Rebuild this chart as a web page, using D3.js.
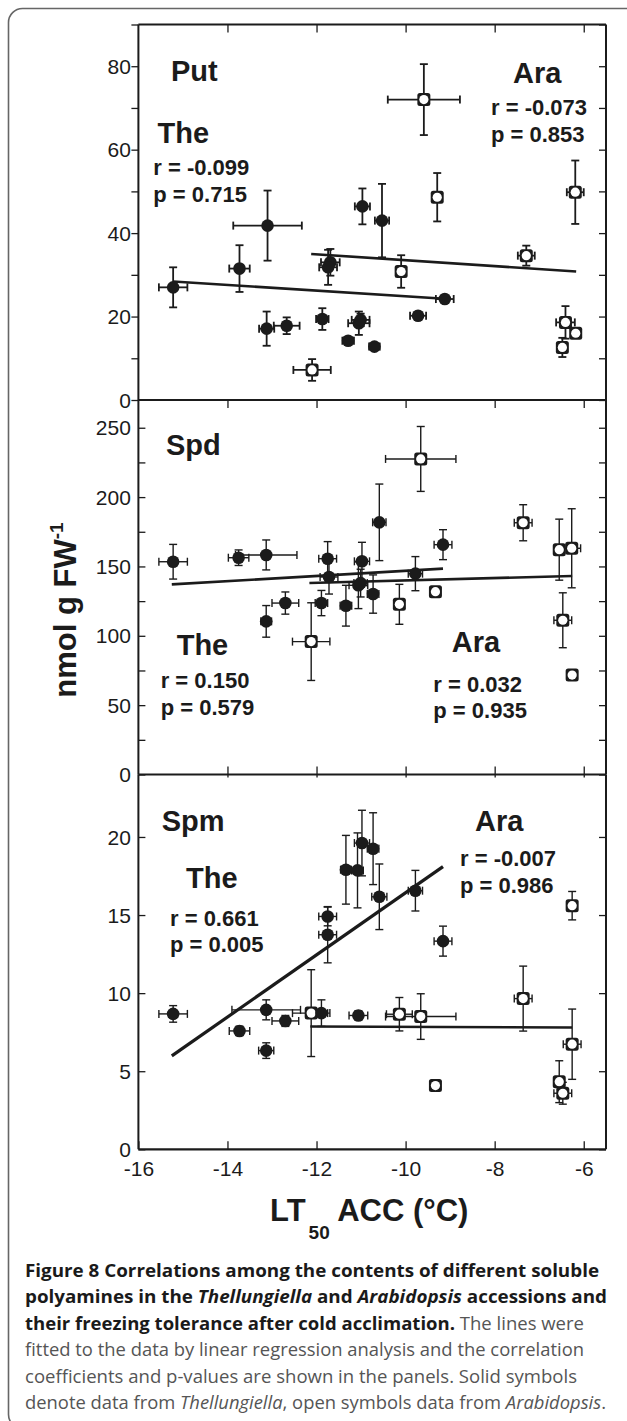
<!DOCTYPE html>
<html><head><meta charset="utf-8">
<script src="https://cdn.jsdelivr.net/npm/d3@7"></script>
<style>body{margin:0;background:#fff}</style>
</head><body>
<script>
// ---------- data ----------
const xTickValues = [-16, -14, -12, -10, -8, -6];
const xTickLabels = ["-16", "-14", "-12", "-10", "-8", "-6"];

const putYTicks = [0, 20, 40, 60, 80];
const putYMinor = [10, 30, 50, 70, 90];
const spdYTicks = [0, 50, 100, 150, 200, 250];
const spdYMinor = [25, 75, 125, 175, 225];
const spmYTicks = [0, 5, 10, 15, 20];
const spmYMinor = [];

// Thellungiella (solid) and Arabidopsis (open): x = LT50, y = content, xe / ye = error
const putThe = [
  {x:-15.22,y:27.0,xe:0.32,ye:4.8},{x:-13.73,y:31.5,xe:0.23,ye:5.6},{x:-13.10,y:41.8,xe:0.77,ye:8.4},
  {x:-13.12,y:17.1,xe:0.17,ye:4.1},{x:-12.67,y:17.8,xe:0.29,ye:2.0},{x:-11.87,y:19.4,xe:0.14,ye:2.6},
  {x:-11.69,y:33.0,xe:0.21,ye:3.2},{x:-11.74,y:31.8,xe:0.20,ye:4.2},{x:-10.97,y:46.4,xe:0.17,ye:4.3},
  {x:-11.29,y:14.2,xe:0.13,ye:0.6},{x:-11.05,y:18.4,xe:0.24,ye:2.8},{x:-11.01,y:19.2,xe:0.20,ye:1.5},
  {x:-10.53,y:43.0,xe:0.16,ye:8.8},{x:-10.70,y:12.8,xe:0.12,ye:0.7},{x:-9.72,y:20.2,xe:0.18,ye:0.6},
  {x:-9.12,y:24.2,xe:0.20,ye:0.6}
];
const putAra = [
  {x:-9.59,y:72.0,xe:0.81,ye:8.5},{x:-9.29,y:48.6,xe:0.10,ye:5.8},{x:-10.10,y:30.8,xe:0.08,ye:3.9},
  {x:-12.10,y:7.2,xe:0.42,ye:2.6},{x:-7.29,y:34.6,xe:0.19,ye:2.4},{x:-6.19,y:49.8,xe:0.19,ye:7.6},
  {x:-6.41,y:18.6,xe:0.21,ye:3.9},{x:-6.48,y:12.6,xe:0.08,ye:2.3},{x:-6.18,y:16.0,xe:0.10,ye:0.4}
];
const spdThe = [
  {x:-15.22,y:153.4,xe:0.32,ye:12.5},{x:-13.75,y:156.3,xe:0.23,ye:5.6},{x:-13.13,y:158.3,xe:0.69,ye:10.8},
  {x:-13.13,y:110.4,xe:0.12,ye:11.4},{x:-12.70,y:123.6,xe:0.30,ye:8.0},{x:-11.89,y:123.6,xe:0.14,ye:9.1},
  {x:-11.75,y:155.6,xe:0.20,ye:12.3},{x:-11.72,y:142.4,xe:0.20,ye:12.3},{x:-11.34,y:121.7,xe:0.13,ye:14.7},
  {x:-10.98,y:153.7,xe:0.17,ye:13.7},{x:-11.06,y:136.4,xe:0.21,ye:16.8},{x:-11.01,y:138.0,xe:0.15,ye:10.0},
  {x:-10.73,y:130.1,xe:0.13,ye:13.8},{x:-10.59,y:181.8,xe:0.15,ye:27.6},{x:-9.78,y:144.8,xe:0.16,ye:12.3},
  {x:-9.16,y:165.7,xe:0.20,ye:10.8}
];
const spdAra = [
  {x:-9.66,y:227.5,xe:0.79,ye:23.4},{x:-9.33,y:131.8,xe:0.10,ye:2.5},{x:-10.14,y:122.7,xe:0.08,ye:14.4},
  {x:-12.12,y:95.8,xe:0.42,ye:28.0},{x:-7.36,y:181.5,xe:0.20,ye:13.0},{x:-6.55,y:162.1,xe:0.08,ye:22.0},
  {x:-6.27,y:163.1,xe:0.20,ye:28.5},{x:-6.47,y:111.2,xe:0.20,ye:19.8},{x:-6.26,y:71.7,xe:0.08,ye:2.0}
];
const spmThe = [
  {x:-15.22,y:8.67,xe:0.32,ye:0.53},{x:-13.73,y:7.58,xe:0.23,ye:0.3},{x:-13.13,y:8.93,xe:0.77,ye:0.64},
  {x:-13.13,y:6.32,xe:0.17,ye:0.5},{x:-12.70,y:8.22,xe:0.30,ye:0.35},{x:-11.89,y:8.72,xe:0.14,ye:0.85},
  {x:-11.75,y:14.91,xe:0.20,ye:0.6},{x:-11.75,y:13.74,xe:0.20,ye:1.8},{x:-11.34,y:17.9,xe:0.12,ye:2.2},
  {x:-11.08,y:17.86,xe:0.13,ye:2.4},{x:-10.98,y:19.61,xe:0.17,ye:2.1},{x:-10.73,y:19.25,xe:0.13,ye:2.3},
  {x:-10.59,y:16.17,xe:0.17,ye:2.1},{x:-9.78,y:16.56,xe:0.16,ye:1.3},{x:-9.16,y:13.33,xe:0.20,ye:0.96},
  {x:-11.06,y:8.57,xe:0.21,ye:0.3}
];
const spmAra = [
  {x:-9.66,y:8.50,xe:0.79,ye:1.46},{x:-9.33,y:4.08,xe:0.10,ye:0.1},{x:-10.14,y:8.65,xe:0.29,ye:1.07},
  {x:-12.12,y:8.72,xe:0.42,ye:2.78},{x:-7.36,y:9.65,xe:0.20,ye:2.08},{x:-6.55,y:4.33,xe:0.10,ye:1.34},
  {x:-6.26,y:6.73,xe:0.20,ye:2.25},{x:-6.47,y:3.59,xe:0.20,ye:0.7},{x:-6.26,y:15.6,xe:0.10,ye:0.91}
];

// fitted regression lines (end points)
const putFitThe = [[-15.22, 28.4], [-9.04, 24.2]];
const putFitAra = [[-12.12, 35.0], [-6.17, 30.8]];
const spdFitThe = [[-15.25, 137.1], [-9.16, 148.4]];
const spdFitAra = [[-12.16, 138.1], [-6.26, 143.1]];
const spmFitThe = [[-15.25, 5.98], [-9.16, 18.1]];
const spmFitAra = [[-12.14, 7.86], [-6.26, 7.8]];

const panelNames = ["Put", "Spd", "Spm"];
const theStats = [["r = -0.099", "p = 0.715"], ["r = 0.150", "p = 0.579"], ["r = 0.661", "p = 0.005"]];
const araStats = [["r = -0.073", "p = 0.853"], ["r = 0.032", "p = 0.935"], ["r = -0.007", "p = 0.986"]];

const yLabel = "nmol g FW";
const yLabelSup = "-1";
const xLabelMain = "LT";
const xLabelSub = "50";
const xLabelRest = " ACC (°C)";

// ---------- drawing ----------
const W = 627, H = 1421;
const svg = d3.select("body").append("svg").attr("width", W).attr("height", H)
  .attr("font-family", "'Liberation Sans', Arial, Helvetica, sans-serif");

svg.append("rect").attr("x", 8.5).attr("y", 8.5).attr("width", 640).attr("height", 1420)
  .attr("rx", 14).attr("fill", "none").attr("stroke", "#666").attr("stroke-width", 1.6);

const X0 = 138.4, X1 = 606;
const x = d3.scaleLinear().domain([-16, -5.5]).range([X0, X1]);

const panels = [
  {top: 24.5, bottom: 400, max: 90, ticks: putYTicks, minor: putYMinor, the: putThe, ara: putAra,
   fitThe: putFitThe, fitAra: putFitAra, leftOut: true, theW: 2.6,
   name: {x: 171, y: 81}, araName: {x: 513, y: 82.7}, araStats: {x: 491, y: 115},
   theName: {x: 157.5, y: 143}, theStats: {x: 153.3, y: 175}, barW: 1.8},
  {top: 400, bottom: 774.5, max: 270, ticks: spdYTicks, minor: spdYMinor, the: spdThe, ara: spdAra,
   fitThe: spdFitThe, fitAra: spdFitAra, leftOut: false, theW: 2.6,
   name: {x: 166, y: 455}, araName: {x: 451.7, y: 651.7}, araStats: {x: 433.3, y: 691.7},
   theName: {x: 176.7, y: 655}, theStats: {x: 160.7, y: 688}, barW: 1.4},
  {top: 774.5, bottom: 1149.3, max: 24, ticks: spmYTicks, minor: spmYMinor, the: spmThe, ara: spmAra,
   fitThe: spmFitThe, fitAra: spmFitAra, leftOut: false, theW: 3.2,
   name: {x: 161.7, y: 830.7}, araName: {x: 475, y: 830.7}, araStats: {x: 460, y: 866},
   theName: {x: 186, y: 887.7}, theStats: {x: 170, y: 925.7}, barW: 1.4}
];

const ink = "#1b1b1b";

panels.forEach((p, i) => {
  const y = d3.scaleLinear().domain([0, p.max]).range([p.bottom, p.top]);
  const g = svg.append("g");

  // left axis major with labels
  const la = d3.axisLeft(y).tickValues(p.ticks).tickFormat(d3.format("d"))
    .tickSize(p.leftOut ? 7 : -7).tickPadding(p.leftOut ? 0.5 : 7.5);
  const lg = g.append("g").attr("transform", `translate(${X0},0)`).call(la);
  lg.select(".domain").remove();
  lg.selectAll("line").attr("stroke", ink).attr("stroke-width", 1.3);
  lg.selectAll("text").attr("font-size", 21).attr("fill", ink).attr("dy", "0.34em");
  if (p.minor.length) {
    const lm = g.append("g").attr("transform", `translate(${X0},0)`)
      .call(d3.axisLeft(y).tickValues(p.minor).tickFormat("").tickSize(p.leftOut ? 7 : -7));
    lm.select(".domain").remove();
    lm.selectAll("line").attr("stroke", ink).attr("stroke-width", 1.3);
  }
  // right axis ticks inward
  const rg = g.append("g").attr("transform", `translate(${X1},0)`)
    .call(d3.axisRight(y).tickValues(p.ticks.concat(p.minor)).tickFormat("").tickSize(-7));
  rg.select(".domain").remove();
  rg.selectAll("line").attr("stroke", ink).attr("stroke-width", 1.3);

  // frame sides
  g.append("line").attr("x1", X0).attr("x2", X0).attr("y1", p.top).attr("y2", p.bottom)
    .attr("stroke", ink).attr("stroke-width", 2);
  g.append("line").attr("x1", X1).attr("x2", X1).attr("y1", p.top).attr("y2", p.bottom)
    .attr("stroke", ink).attr("stroke-width", 2);
  g.append("line").attr("x1", X0).attr("x2", X1).attr("y1", p.bottom).attr("y2", p.bottom)
    .attr("stroke", ink).attr("stroke-width", 2.2);
  if (i === 0) {
    g.append("line").attr("x1", X0).attr("x2", X1).attr("y1", p.top).attr("y2", p.top)
      .attr("stroke", ink).attr("stroke-width", 2);
  }

  // x ticks
  const xt = (axisFn, ypos, size) => {
    const a = g.append("g").attr("transform", `translate(0,${ypos})`)
      .call(axisFn(x).tickValues(xTickValues.slice(1)).tickFormat("").tickSize(size));
    a.select(".domain").remove();
    a.selectAll("line").attr("stroke", ink).attr("stroke-width", 1.3);
  };
  if (i === 0) { xt(d3.axisTop, p.top, -8); xt(d3.axisBottom, p.bottom, 8); }
  if (i === 1) { xt(d3.axisTop, p.bottom, 8); xt(d3.axisBottom, p.bottom, 3); }
  if (i === 2) {
    const a = g.append("g").attr("transform", `translate(0,${p.bottom})`)
      .call(d3.axisBottom(x).tickValues(xTickValues).tickFormat((d, k) => xTickLabels[k])
        .tickSize(-8).tickPadding(13));
    a.select(".domain").remove();
    a.selectAll("line").attr("stroke", ink).attr("stroke-width", 1.3);
    a.selectAll("text").attr("font-size", 21).attr("fill", ink).attr("dy", "0.66em");
  }

  // regression lines
  const line = d3.line().x(d => x(d[0])).y(d => y(d[1]));
  g.append("path").datum(p.fitAra).attr("d", line).attr("stroke", ink).attr("stroke-width", 2.6).attr("fill", "none");
  g.append("path").datum(p.fitThe).attr("d", line).attr("stroke", ink).attr("stroke-width", p.theW).attr("fill", "none");

  // error bars
  const drawBars = (data) => {
    const eb = g.append("g").attr("stroke", ink).attr("stroke-width", p.barW);
    data.forEach(d => {
      const cx = x(d.x), cy = y(d.y);
      const y1 = y(d.y + d.ye), y2 = y(d.y - d.ye);
      const x1 = x(d.x - d.xe), x2 = x(d.x + d.xe);
      eb.append("line").attr("x1", cx).attr("x2", cx).attr("y1", y1).attr("y2", y2);
      eb.append("line").attr("x1", cx - 4).attr("x2", cx + 4).attr("y1", y1).attr("y2", y1);
      eb.append("line").attr("x1", cx - 4).attr("x2", cx + 4).attr("y1", y2).attr("y2", y2);
      eb.append("line").attr("x1", x1).attr("x2", x2).attr("y1", cy).attr("y2", cy);
      eb.append("line").attr("x1", x1).attr("x2", x1).attr("y1", cy - 4).attr("y2", cy + 4);
      eb.append("line").attr("x1", x2).attr("x2", x2).attr("y1", cy - 4).attr("y2", cy + 4);
    });
  };
  drawBars(p.ara);
  drawBars(p.the);

  // markers
  const am = g.append("g");
  p.ara.forEach(d => {
    am.append("rect").attr("x", x(d.x) - 6.5).attr("y", y(d.y) - 6.5).attr("width", 13).attr("height", 13)
      .attr("rx", 2.5).attr("fill", ink);
    am.append("circle").attr("cx", x(d.x)).attr("cy", y(d.y)).attr("r", 4.6).attr("fill", "#fff");
  });
  g.append("g").selectAll("circle").data(p.the).join("circle")
    .attr("cx", d => x(d.x)).attr("cy", d => y(d.y)).attr("r", 6.3).attr("fill", ink);

  // texts
  const big = (t, pos) => g.append("text").attr("x", pos.x).attr("y", pos.y).text(t)
    .attr("font-size", 29).attr("font-weight", "bold").attr("fill", ink);
  big(panelNames[i], p.name);
  big("Ara", p.araName);
  big("The", p.theName);
  const stats = (arr, pos) => arr.forEach((t, k) => g.append("text").attr("x", pos.x).attr("y", pos.y + k * 26.7)
    .text(t).attr("font-size", 22).attr("font-weight", "bold").attr("fill", ink));
  stats(araStats[i], p.araStats);
  stats(theStats[i], p.theStats);
});

// y axis title
const yt = svg.append("text").attr("transform", "translate(76,610) rotate(-90)")
  .attr("text-anchor", "middle").attr("font-size", 31).attr("font-weight", "bold").attr("fill", ink);
yt.append("tspan").text(yLabel);
yt.append("tspan").text(yLabelSup).attr("font-size", 19).attr("dy", -13);

// x axis title
const xtl = svg.append("text").attr("x", 270).attr("y", 1221).attr("font-size", 31)
  .attr("font-weight", "bold").attr("fill", ink);
xtl.append("tspan").text(xLabelMain);
xtl.append("tspan").text(xLabelSub).attr("font-size", 19).attr("dy", 18).attr("dx", 3);
xtl.append("tspan").text(xLabelRest).attr("dy", -18);

// caption
const capLines = [
  {w: 574, parts: [["Figure 8 Correlations among the contents of different soluble", "b"]]},
  {w: 582, parts: [["polyamines in the ", "b"], ["Thellungiella", "bi"], [" and ", "b"], ["Arabidopsis", "bi"], [" accessions and", "b"]]},
  {w: 559, parts: [["their freezing tolerance after cold acclimation.", "b"], [" The lines were", "r"]]},
  {w: 559, parts: [["fitted to the data by linear regression analysis and the correlation", "r"]]},
  {w: 552, parts: [["coefficients and p-values are shown in the panels. Solid symbols", "r"]]},
  {w: 581, parts: [["denote data from ", "r"], ["Thellungiella", "i"], [", open symbols data from ", "r"], ["Arabidopsis", "i"], [".", "r"]]}
];
capLines.forEach((ln, k) => {
  const t = svg.append("text").attr("x", 25).attr("y", 1276.5 + k * 26.5)
    .attr("font-family", "'Open Sans', 'Noto Sans', sans-serif").attr("font-size", 18)
    .attr("textLength", ln.w).attr("lengthAdjust", "spacingAndGlyphs");
  ln.parts.forEach(([s, st]) => {
    t.append("tspan").text(s)
      .attr("font-weight", st.includes("b") ? 700 : 400)
      .attr("font-style", st.includes("i") ? "italic" : "normal")
      .attr("fill", st.includes("b") ? "#1a1a1a" : "#555");
  });
});
</script>
</body></html>
